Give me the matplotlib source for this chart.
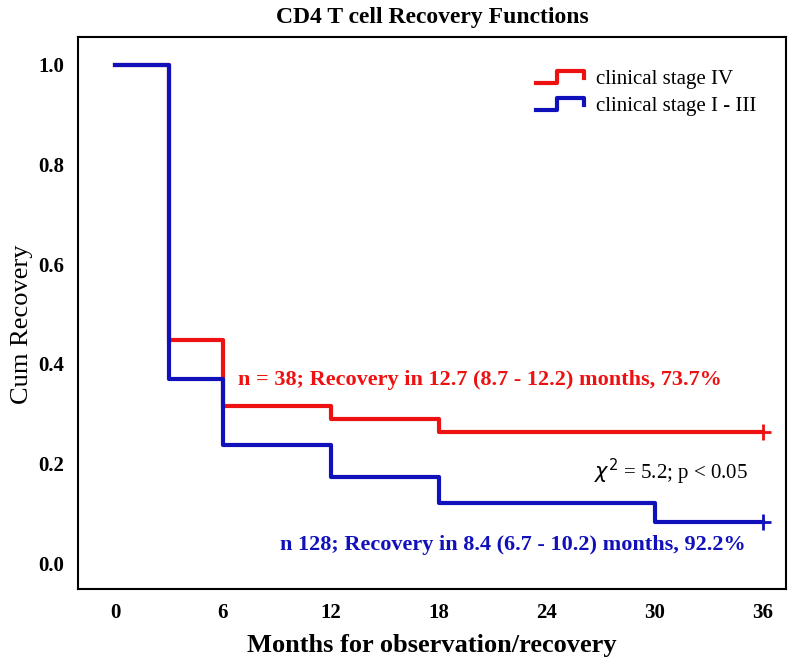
import matplotlib.pyplot as plt
from matplotlib.legend_handler import HandlerLine2D
from matplotlib.lines import Line2D

# step points (months, cum recovery)
stage4_t = [0, 3, 6, 12, 18, 36]
stage4_s = [1.0, 0.447, 0.316, 0.289, 0.263, 0.263]
stage13_t = [0, 3, 6, 12, 18, 30, 36]
stage13_s = [1.0, 0.37, 0.237, 0.173, 0.12, 0.082, 0.082]

x_ticks = [0, 6, 12, 18, 24, 30, 36]
y_ticks = [0.0, 0.2, 0.4, 0.6, 0.8, 1.0]

red = '#ee1111'
blue = '#1111bb'

plt.rcParams['font.family'] = ['Liberation Serif', 'DejaVu Serif']


class StepHandler(HandlerLine2D):
    # legend key drawn as a small step, like the curves
    def create_artists(self, legend, orig_handle, xdescent, ydescent,
                       width, height, fontsize, trans):
        x0 = -xdescent
        y0 = -ydescent + height * 0.1
        y1 = -ydescent + height * 0.9
        xs = [x0, x0 + width * 0.45, x0 + width * 0.45, x0 + width, x0 + width]
        ys = [y0, y0, y1, y1, y0 + height * 0.3]
        ln = Line2D(xs, ys, color=orig_handle.get_color(), lw=orig_handle.get_linewidth())
        ln.set_transform(trans)
        return [ln]


fig = plt.figure(figsize=(8, 6.67), dpi=100)
ax = fig.add_axes([0.0975, 0.117, 0.885, 0.8275])

l4, = ax.step(stage4_t, stage4_s, where='post', color=red, lw=3, label='clinical stage IV')
l13, = ax.step(stage13_t, stage13_s, where='post', color=blue, lw=3, label='clinical stage I - III')

# censor marks at the end
ax.plot([stage4_t[-1]], [stage4_s[-1]], marker='+', ms=12, mew=2, color=red)
ax.plot([stage13_t[-1]], [stage13_s[-1]], marker='+', ms=12, mew=2, color=blue)

ax.set_xlim(-2.06, 37.3)
ax.set_ylim(-0.052, 1.056)
ax.set_xticks(x_ticks)
ax.set_yticks(y_ticks)
ax.set_xticklabels([str(t) for t in x_ticks], fontweight='bold', fontsize=15)
ax.set_yticklabels(['%.1f' % v for v in y_ticks], fontweight='bold', fontsize=15)
ax.tick_params(length=0, pad=10)
for sp in ax.spines.values():
    sp.set_linewidth(1.5)

ax.set_title('CD4 T cell Recovery Functions', fontsize=17, fontweight='bold', pad=10)
ax.set_xlabel('Months for observation/recovery', fontsize=19, fontweight='bold', labelpad=8)
ax.set_ylabel('Cum Recovery', fontsize=19)
ax.yaxis.set_label_coords(-0.063, 0.48)

ax.legend(handles=[l4, l13], loc='upper right', bbox_to_anchor=(0.985, 0.975),
          frameon=False, fontsize=15, handlelength=2.3, handletextpad=0.6,
          labelspacing=0.35, handler_map={Line2D: StepHandler()})

ax.text(20.3, 0.367, 'n = 38; Recovery in 12.7 (8.7 - 12.2) months, 73.7%',
        color=red, fontsize=16, fontweight='bold', ha='center', va='center')
ax.text(30.9, 0.183, r'$\chi^2$ = 5.2; p < 0.05', color='black', fontsize=15,
        ha='center', va='center')
ax.text(22.1, 0.036, 'n 128; Recovery in 8.4 (6.7 - 10.2) months, 92.2%',
        color=blue, fontsize=16, fontweight='bold', ha='center', va='center')

fig.savefig('out.png', dpi=100)
